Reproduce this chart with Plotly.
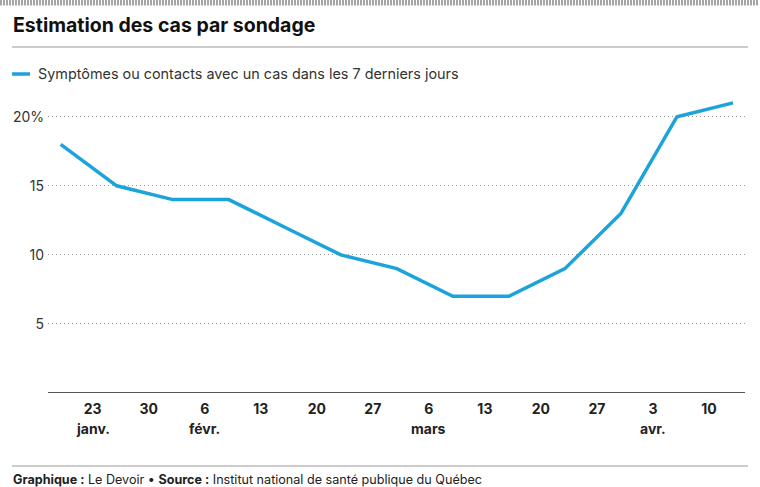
import plotly.graph_objects as go

dates = ["2022-01-19", "2022-01-26", "2022-02-02", "2022-02-09", "2022-02-16",
         "2022-02-23", "2022-03-02", "2022-03-09", "2022-03-16", "2022-03-23",
         "2022-03-30", "2022-04-06", "2022-04-13"]
values = [18, 15, 14, 14, 12, 10, 9, 7, 7, 9, 13, 20, 21]

tick_dates = ["2022-01-23", "2022-01-30", "2022-02-06", "2022-02-13", "2022-02-20",
              "2022-02-27", "2022-03-06", "2022-03-13", "2022-03-20", "2022-03-27",
              "2022-04-03", "2022-04-10"]
tick_labels = ["23", "30", "6", "13", "20", "27", "6", "13", "20", "27", "3", "10"]
month_dates = ["2022-01-23", "2022-02-06", "2022-03-06", "2022-04-03"]
month_labels = ["janv.", "févr.", "mars", "avr."]
y_ticks = [5, 10, 15, 20]
y_labels = ["5", "10", "15", "20%"]

series_name = "Symptômes ou contacts avec un cas dans les 7 derniers jours"
title = "Estimation des cas par sondage"
LINE = "#1ba3dc"
FONT = "Inter, Roboto, sans-serif"

L, R, T, B = 48, 15, 96, 94
W, H = 760, 487
pw = W - L - R
ph = H - T - B

def px(x):
    return (x - L) / pw

def py(y):
    return (H - B - y) / ph

fig = go.Figure()
fig.add_trace(go.Scatter(x=dates, y=values, mode="lines", name=series_name,
                         line=dict(color=LINE, width=3.5), showlegend=False,
                         hovertemplate="%{x|%d %b}: %{y}%<extra></extra>"))

fig.update_layout(
    width=W, height=H,
    margin=dict(l=L, r=R, t=T, b=B),
    paper_bgcolor="white", plot_bgcolor="white",
    font=dict(family=FONT, color="#222"),
    xaxis=dict(range=["2022-01-17 10:00", "2022-04-14 12:00"], tickvals=tick_dates,
               ticktext=[f"<b>{t}</b>" for t in tick_labels], showgrid=False, showline=False,
               zeroline=False, ticks="", ticklabelstandoff=6,
               tickfont=dict(size=14, color="#222"), fixedrange=True),
    yaxis=dict(range=[0, 21.5], tickvals=y_ticks, ticktext=y_labels,
               showgrid=True, gridcolor="#9a9a9a", griddash="1px,3px", gridwidth=1,
               zeroline=False, showline=False, ticks="", ticklabelstandoff=3,
               tickfont=dict(size=14, color="#333"), fixedrange=True),
)

shapes = []
# top hatched stripe (decoration): one path of short vertical strokes
segs = []
xpix = 1.0
while xpix < W:
    segs.append(f"M{px(xpix):.5f},{py(0):.5f} L{px(xpix):.5f},{py(5.5):.5f}")
    xpix += 3.0
shapes.append(dict(type="path", xref="paper", yref="paper", path=" ".join(segs),
                   line=dict(color="#6a6a6a", width=1.2), layer="above"))
# title separator
shapes.append(dict(type="line", xref="paper", yref="paper", x0=px(12), x1=px(748), y0=py(47), y1=py(47),
                   line=dict(color="#9a9a9a", width=1.2)))
# legend swatch
shapes.append(dict(type="line", xref="paper", yref="paper", x0=px(12), x1=px(30), y0=py(74), y1=py(74),
                   line=dict(color=LINE, width=3.5)))
# x-axis baseline
shapes.append(dict(type="line", xref="paper", yref="y", x0=0, x1=1, y0=0, y1=0,
                   line=dict(color="#555", width=2)))
# footer separator
shapes.append(dict(type="line", xref="paper", yref="paper", x0=px(12), x1=px(748), y0=py(466), y1=py(466),
                   line=dict(color="#9a9a9a", width=1.2)))
fig.update_layout(shapes=shapes)

for d, m in zip(month_dates, month_labels):
    fig.add_annotation(text=f"<b>{m}</b>", x=d, xref="x", yref="paper", y=py(428),
                       xanchor="center", yanchor="middle", showarrow=False,
                       font=dict(size=14, color="#222", family=FONT))

fig.add_annotation(text=f"<b>{title}</b>", xref="paper", yref="paper", x=px(11), y=py(25),
                   xanchor="left", yanchor="middle", showarrow=False,
                   font=dict(size=19.5, color="#111", family=FONT))
fig.add_annotation(text=series_name, xref="paper", yref="paper", x=px(36), y=py(74),
                   xanchor="left", yanchor="middle", showarrow=False,
                   font=dict(size=14.4, color="#333", family=FONT))
fig.add_annotation(text="<b>Graphique :</b> Le Devoir • <b>Source :</b> Institut national de santé publique du Québec",
                   xref="paper", yref="paper", x=px(11), y=py(480),
                   xanchor="left", yanchor="middle", showarrow=False,
                   font=dict(size=12.6, color="#222", family=FONT))

fig.write_html("out.html", config={"displayModeBar": False},
               post_script="document.body.style.margin='0';document.body.style.overflow='hidden';")
